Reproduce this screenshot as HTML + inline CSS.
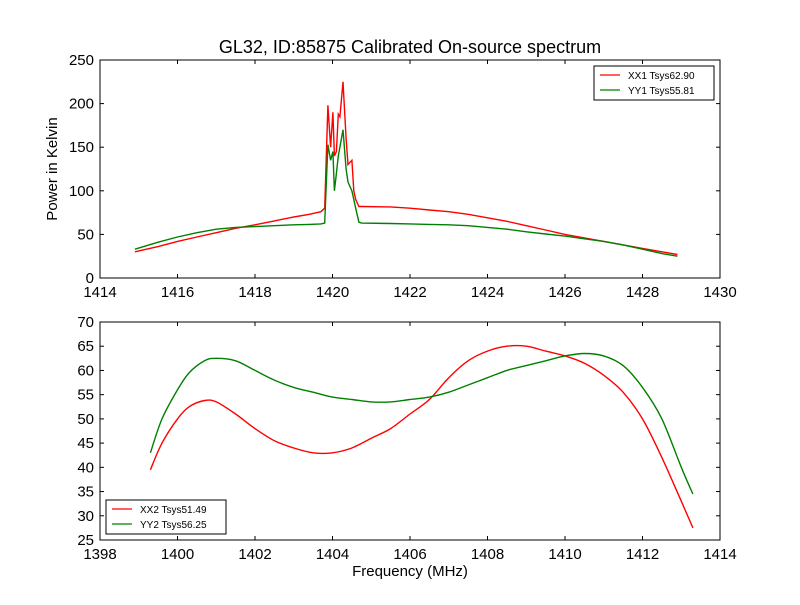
<!DOCTYPE html>
<html><head><meta charset="utf-8"><style>
body{margin:0;background:#fff;}
svg text{font-family:"Liberation Sans",sans-serif;}
</style></head><body>
<svg id="chart" width="800" height="600" xmlns="http://www.w3.org/2000/svg">
<rect width="800" height="600" fill="#fff"/>
<text x="410" y="53" font-size="18" text-anchor="middle">GL32, ID:85875 Calibrated On-source spectrum</text>
<g id="top"></g>
<g id="bot"></g>
<text x="410" y="576" font-size="15" text-anchor="middle">Frequency (MHz)</text>
<text transform="translate(57,169) rotate(-90)" font-size="15" text-anchor="middle">Power in Kelvin</text>
</svg>
<script>
const topXTicks=[1414,1416,1418,1420,1422,1424,1426,1428,1430];
const topYTicks=[0,50,100,150,200,250];
const topFreq=[1414.9,1415.5,1416,1416.5,1417,1417.5,1418,1418.5,1419,1419.4,1419.7,1419.8,1419.88,1419.95,1420.01,1420.05,1420.1,1420.15,1420.19,1420.27,1420.35,1420.4,1420.5,1420.55,1420.6,1420.68,1420.75,1421.5,1422,1422.5,1423,1423.5,1424,1424.5,1425,1425.5,1426,1426.5,1427,1427.5,1428,1428.5,1428.9];
const topXX1=[30,36,42,47,52,57,61,65.5,70,73,76,80,198,150,190,140,145,188,185,225,160,130,135,100,90,82,82,81.5,80,78,76,73,69,65,60,55,50,46,42,38,34,30,27];
const topYY1=[33,41,47,52,56,58,59,60,61,61.5,62,63,153,135,145,100,120,140,150,170,125,110,100,90,80,64,63,62.5,62,61.5,61,60,58,56,53,50.5,48,45,42,38,33,28,25];
const botXTicks=[1398,1400,1402,1404,1406,1408,1410,1412,1414];
const botYTicks=[25,30,35,40,45,50,55,60,65,70];
const botFreq=[1399.3,1399.6,1400,1400.3,1400.7,1401,1401.5,1402,1402.5,1403,1403.5,1404,1404.5,1405,1405.5,1406,1406.5,1407,1407.5,1408,1408.5,1409,1409.5,1410,1410.5,1411,1411.5,1412,1412.5,1413,1413.3];
const botXX2=[39.5,45,50,52.5,53.8,53.5,51,48,45.5,44,43,43,44,46,48,51,54,58.5,62,64,65,65,64,63,61.5,59,55.5,50,42,33,27.5];
const botYY2=[43,50,56,59.5,62,62.5,62,60,58,56.5,55.5,54.5,54,53.5,53.5,54,54.5,55.5,57,58.5,60,61,62,63,63.5,63,61,56.5,50,40,34.5];
const NS="http://www.w3.org/2000/svg";
function mk(parent,tag,attrs){const e=document.createElementNS(NS,tag);for(const k in attrs)e.setAttribute(k,attrs[k]);parent.appendChild(e);return e;}
function pathD(pts,smooth){
  if(!smooth)return pts.map((p,j)=>(j?'L':'M')+p[0].toFixed(1)+','+p[1].toFixed(1)).join('');
  let d='M'+pts[0][0].toFixed(1)+','+pts[0][1].toFixed(1);
  for(let i=0;i<pts.length-1;i++){
    const p0=pts[Math.max(0,i-1)],p1=pts[i],p2=pts[i+1],p3=pts[Math.min(pts.length-1,i+2)];
    const c1=[p1[0]+(p2[0]-p0[0])/6,p1[1]+(p2[1]-p0[1])/6];
    const c2=[p2[0]-(p3[0]-p1[0])/6,p2[1]-(p3[1]-p1[1])/6];
    d+='C'+c1.map(v=>v.toFixed(1)).join(',')+' '+c2.map(v=>v.toFixed(1)).join(',')+' '+p2.map(v=>v.toFixed(1)).join(',');
  }
  return d;
}
function panel(g,y0,y1,xmin,xmax,ymin,ymax,xt,yt,freq,s1,s2,labels,legPos,smooth){
  const L=100,R=720;
  const sx=v=>L+(v-xmin)/(xmax-xmin)*(R-L);
  const sy=v=>y1-(v-ymin)/(ymax-ymin)*(y1-y0);
  const series=[[s1,'#ff0000',labels[0]],[s2,'#008000',labels[1]]];
  series.forEach((s,i)=>{
    const pts=freq.map((f,j)=>[sx(f),sy(s[0][j])]);
    const p=mk(g,'path',{d:pathD(pts,smooth),fill:'none',stroke:s[1],'stroke-width':1.4});
    
    
  });
  const fr=mk(g,'rect',{x:L,y:y0,width:R-L,height:y1-y0,fill:'none',stroke:'#000'});
  
  
  xt.forEach(v=>{const x=sx(v);
    mk(g,'line',{x1:x,x2:x,y1:y1,y2:y1-4,stroke:'#000'});
    mk(g,'line',{x1:x,x2:x,y1:y0,y2:y0+4,stroke:'#000'});
    const t=mk(g,'text',{x:x,y:y1+19,'font-size':15,'text-anchor':'middle'});t.textContent=v;
    
    
  });
  yt.forEach(v=>{const y=sy(v);
    mk(g,'line',{x1:L,x2:L+4,y1:y,y2:y,stroke:'#000'});
    mk(g,'line',{x1:R,x2:R-4,y1:y,y2:y,stroke:'#000'});
    const t=mk(g,'text',{x:L-6,y:y+5,'font-size':15,'text-anchor':'end'});t.textContent=v;
    
    
  });
  const lg=mk(g,'g',{});
  
  
  mk(lg,'rect',{x:legPos[0],y:legPos[1],width:120,height:34,fill:'#fff',stroke:'#000'});
  series.forEach((s,i)=>{const yy=legPos[1]+9+i*15;
    mk(lg,'line',{x1:legPos[0]+6,x2:legPos[0]+26,y1:yy,y2:yy,stroke:s[1],'stroke-width':1.3});
    const t=mk(lg,'text',{x:legPos[0]+34,y:yy+4,'font-size':10});t.textContent=s[2];
    
    
  });
}
panel(document.getElementById('top'),60,278,1414,1430,0,250,topXTicks,topYTicks,topFreq,topXX1,topYY1,['XX1 Tsys62.90','YY1 Tsys55.81'],[594,66],false);
panel(document.getElementById('bot'),322,540,1398,1414,25,70,botXTicks,botYTicks,botFreq,botXX2,botYY2,['XX2 Tsys51.49','YY2 Tsys56.25'],[106,500],true);
</script>
</body></html>
